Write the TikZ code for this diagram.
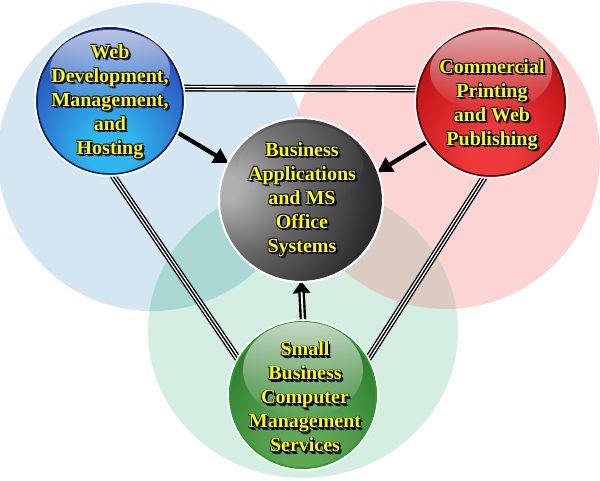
\documentclass[tikz,border=0pt]{standalone}
\usepackage{fontspec}
\setmainfont{Liberation Serif}
\usetikzlibrary{arrows.meta,fadings}
\definecolor{bgBlue}{HTML}{D3E6F2}
\definecolor{bgRed}{HTML}{FCD4D4}
\definecolor{bgGreen}{HTML}{D5EEE2}
\definecolor{ovBG}{HTML}{A9D7D3}
\definecolor{ovRG}{HTML}{DCCBC0}
\definecolor{ovBR}{HTML}{E4D4DC}
\definecolor{ovAll}{HTML}{B8C4BE}
\definecolor{txtY}{HTML}{FFFF00}
\definecolor{txtSh}{HTML}{080838}
\definecolor{b1}{HTML}{2EB6EE}\definecolor{b2}{HTML}{2B6DCC}\definecolor{b3}{HTML}{243494}\definecolor{b4}{HTML}{161A5C}
\definecolor{r1}{HTML}{EE3A3A}\definecolor{r2}{HTML}{CC1A1E}\definecolor{r3}{HTML}{9A1012}\definecolor{r4}{HTML}{560606}
\definecolor{g1}{HTML}{5EA854}\definecolor{g2}{HTML}{3A8A38}\definecolor{g3}{HTML}{246A24}\definecolor{g4}{HTML}{134613}
\definecolor{gRim}{HTML}{2A9A2A}
\definecolor{k1}{HTML}{B0B0B0}\definecolor{k2}{HTML}{646464}\definecolor{k3}{HTML}{262626}\definecolor{k4}{HTML}{050505}
\pgfdeclareradialshading{sphBlue}{\pgfpoint{0bp}{-18bp}}{color(0bp)=(b1); color(8bp)=(b1); color(26bp)=(b2); color(42bp)=(b3); color(54bp)=(b4); color(100bp)=(b4)}
\pgfdeclareradialshading{sphRed}{\pgfpoint{0bp}{-18bp}}{color(0bp)=(r1); color(8bp)=(r1); color(26bp)=(r2); color(42bp)=(r3); color(54bp)=(r4); color(100bp)=(r4)}
\pgfdeclareradialshading{sphGreen}{\pgfpoint{0bp}{-18bp}}{color(0bp)=(g1); color(8bp)=(g1); color(26bp)=(g2); color(42bp)=(g3); color(54bp)=(g4); color(100bp)=(g4)}
\pgfdeclareradialshading{sphBlack}{\pgfpoint{-24bp}{4bp}}{color(0bp)=(k1); color(4bp)=(k1); color(20bp)=(k2); color(40bp)=(k3); color(60bp)=(k4); color(100bp)=(k4)}
\tikzfading[name=hlfade, top color=transparent!15, bottom color=transparent!100]
\newcommand{\sphlabel}[3]{%
  \node[labsh] (#1-s1) at ([shift={(2.2pt,-2.2pt)}]#2) {#3};
  \node[labsh] (#1-s2) at ([shift={(1.2pt,-1.2pt)}]#2) {#3};
  \node[labsh] (#1-s3) at ([shift={(-0.8pt,0.8pt)}]#2) {#3};
  \node[labsh] (#1-s4) at ([shift={(0.9pt,0.8pt)}]#2) {#3};
  \node[labsh] (#1-s5) at ([shift={(-0.8pt,-0.9pt)}]#2) {#3};
  \node[lab] (#1-t) at (#2) {#3};}
\begin{document}
\begin{tikzpicture}[x=1pt,y=-1pt,
  lab/.style={font=\bfseries\fontsize{20}{24}\selectfont, align=center, text=txtY, inner sep=0pt},
  labsh/.style={lab, text=txtSh},
  sph/.style={circle, inner sep=0pt},
  tri/.style={draw=black, line width=6.8pt, postaction={draw=white, line width=4.1pt}, postaction={draw=black, line width=1.4pt}},
  arr/.style={draw=black, line width=4.2pt, -{Triangle[length=15pt,width=16pt]}},
  halo/.style={draw=white, line width=1.6pt}]
\useasboundingbox (0,0) rectangle (600,480);
\fill[white] (0,0) rectangle (600,480);
% background circles
\fill[bgBlue] (152,157) circle [radius=154pt];
\fill[bgRed] (446,155) circle [radius=154pt];
\fill[bgGreen] (303,331) ellipse [x radius=155pt, y radius=147pt];
\begin{scope}
  \clip (446,155) circle [radius=154pt];
  \fill[ovRG] (303,331) ellipse [x radius=155pt, y radius=147pt];
\end{scope}
\begin{scope}
  \clip (152,157) circle [radius=154pt];
  \fill[ovBG] (303,331) ellipse [x radius=155pt, y radius=147pt];
  \fill[ovBR] (446,155) circle [radius=154pt];
  \clip (446,155) circle [radius=154pt];
  \fill[ovAll] (303,331) ellipse [x radius=155pt, y radius=147pt];
\end{scope}
% sphere nodes (positions)
\node[sph, minimum size=148pt] (blueS) at (110,101) {};
\node[sph, minimum size=150pt] (redS) at (491,102) {};
\node[sph, minimum size=162pt] (blackS) at (301,200) {};
\node[sph, minimum size=148pt] (greenS) at (303,395) {};
% connectors
\draw[tri] (blueS.10) -- (redS.170);
\draw[tri] (blueS.-88) -- (greenS.151);
\draw[tri] (redS.-95) -- (greenS.29);
\draw[arr] (blueS.-25) -- (blackS.153);
\draw[arr] (redS.212) -- (blackS.20);
\draw[draw=black, line width=6.6pt, -{Triangle[length=12pt,width=17pt]}] (greenS.north) -- (blackS.south);
\draw[draw=white, line width=1.8pt, shorten >=11pt] (greenS.north) -- (blackS.south);
% spheres
\shade[shading=sphBlue] (110,101) circle [radius=74pt];
\draw[b4, line width=1.5pt] (110,101) circle [radius=73pt];
\fill[white, path fading=hlfade, opacity=0.8] (110,70) ellipse [x radius=60pt, y radius=40pt];
\draw[halo] (110,101) circle [radius=75pt];

\shade[shading=sphRed] (491,102) circle [radius=75pt];
\draw[r4, line width=1.5pt] (491,102) circle [radius=74pt];
\fill[white, path fading=hlfade, opacity=0.75] (491,71) ellipse [x radius=61pt, y radius=41pt];
\draw[halo] (491,102) circle [radius=76pt];

\shade[shading=sphBlack] (301,200) circle [radius=81pt];
\fill[white, path fading=hlfade, opacity=0.12] (301,165) ellipse [x radius=62pt, y radius=42pt];
\draw[halo, line width=2pt] (301,200) circle [radius=82pt];

\shade[shading=sphGreen] (303,395) circle [radius=74pt];
\draw[gRim, line width=1.6pt] (303,395) circle [radius=73pt];
\fill[white, path fading=hlfade, opacity=0.85] (303,370) ellipse [x radius=60pt, y radius=48pt];
\draw[halo] (303,395) circle [radius=75pt];
% labels
\sphlabel{blueL}{110,102}{Web\\Development,\\Management,\\and\\Hosting}
\sphlabel{redL}{492,105}{Commercial\\Printing\\and Web\\Publishing}
\sphlabel{blackL}{302,200}{Business\\Applications\\and MS\\Office\\Systems}
\sphlabel{greenL}{305,397}{Small\\Business\\Computer\\Management\\Services}
\end{tikzpicture}
\end{document}
